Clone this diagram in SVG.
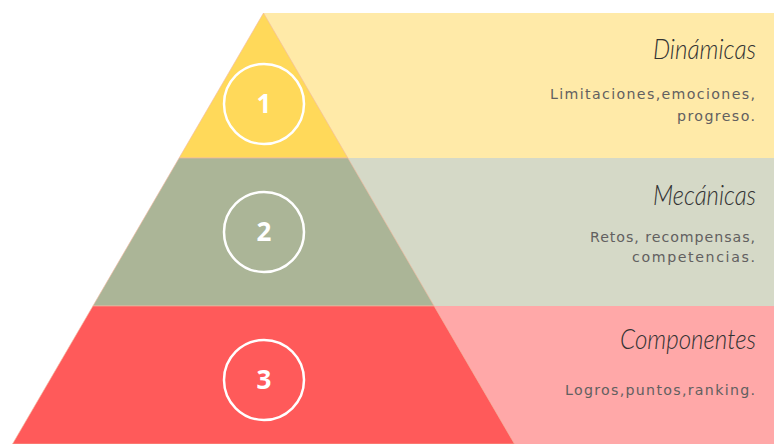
<svg xmlns="http://www.w3.org/2000/svg" width="774" height="444" viewBox="0 0 774 444">
  <style>
    .tier { stroke: #f3b9a0; stroke-width: 0.8; stroke-opacity: 0.8; }
    .ring { fill: none; stroke: #ffffff; stroke-width: 2.5; }
    .num { font-family: "Open Sans", "Liberation Sans", sans-serif; font-weight: 700; font-size: 26px; fill: #ffffff; text-anchor: middle; }
    .title { font-family: Lato, "Open Sans", sans-serif; font-style: italic; font-weight: 300; font-size: 27px; fill: #333333; text-anchor: end; }
    .body { font-family: "DejaVu Sans", "Open Sans", sans-serif; font-size: 14.2px; fill: #626060; text-anchor: end; }
  </style>
  <rect width="774" height="444" fill="#ffffff"/>
  <g id="bands">
    <rect x="263" y="13" width="511" height="145" fill="#ffeaa8"/>
    <rect x="300" y="158" width="474" height="148" fill="#d5d9c7"/>
    <rect x="380" y="306" width="394" height="138" fill="#ffa8a8"/>
  </g>
  <g id="level-1">
    <polygon class="tier" points="263.5,13 347.9,158 179.1,158" fill="#ffd95a"/>
    <circle class="ring" cx="264" cy="104" r="40"/>
    <text class="num" x="264" y="113">1</text>
    <text class="title" x="756" y="59" textLength="103" lengthAdjust="spacingAndGlyphs">Dinámicas</text>
    <text class="body" x="755" y="99" textLength="205" lengthAdjust="spacing">Limitaciones,emociones,</text>
    <text class="body" x="755" y="121" textLength="78" lengthAdjust="spacing">progreso.</text>
  </g>
  <g id="level-2">
    <polygon class="tier" points="179.1,158 347.9,158 434.1,306 92.9,306" fill="#abb597"/>
    <circle class="ring" cx="264" cy="232" r="40"/>
    <text class="num" x="264" y="241">2</text>
    <text class="title" x="756" y="205" textLength="103" lengthAdjust="spacingAndGlyphs">Mecánicas</text>
    <text class="body" x="755" y="242" textLength="165" lengthAdjust="spacing">Retos, recompensas,</text>
    <text class="body" x="755" y="262" textLength="123" lengthAdjust="spacing">competencias.</text>
  </g>
  <g id="level-3">
    <polygon class="tier" points="92.9,306 434.1,306 514.5,444 12.5,444" fill="#ff5a5a"/>
    <circle class="ring" cx="264" cy="380" r="40"/>
    <text class="num" x="264" y="389">3</text>
    <text class="title" x="756" y="349" textLength="136" lengthAdjust="spacingAndGlyphs">Componentes</text>
    <text class="body" x="755" y="395" textLength="190" lengthAdjust="spacing">Logros,puntos,ranking.</text>
  </g>
</svg>
